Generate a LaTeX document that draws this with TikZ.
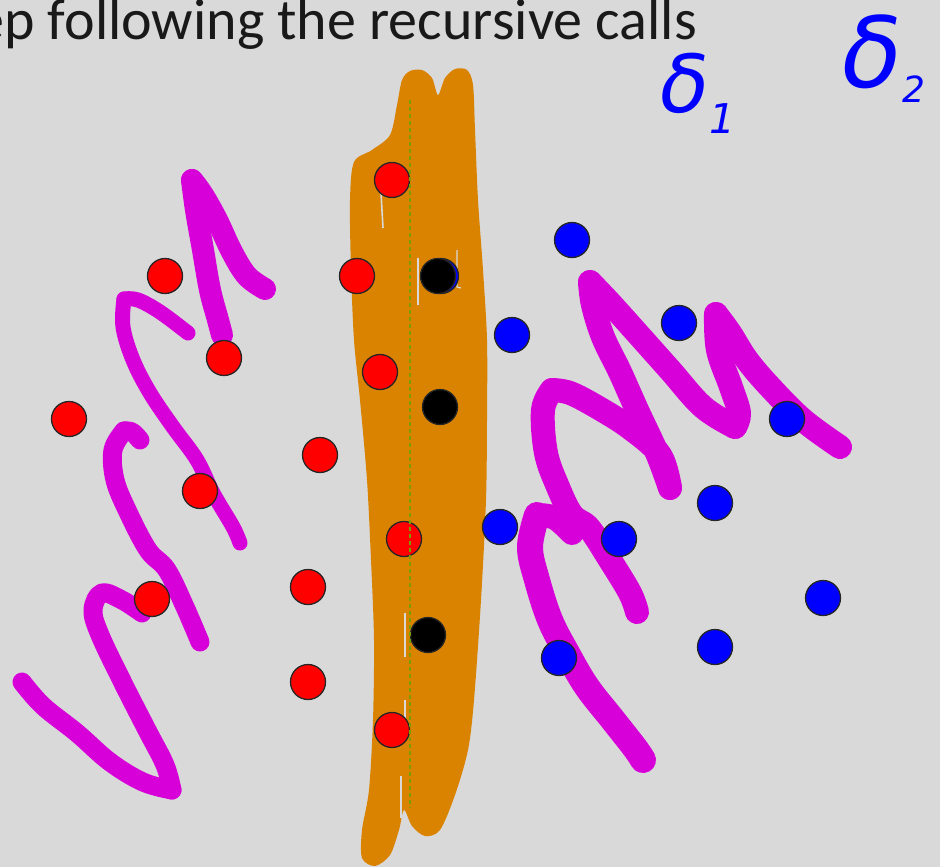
\documentclass[tikz,border=0pt]{standalone}
\usepackage{fontspec}
\setmainfont{Carlito}
\newfontfamily\gfont{DejaVu Sans}
\definecolor{bgc}{RGB}{217,217,217}
\definecolor{orng}{RGB}{217,131,0}
\definecolor{mgn}{RGB}{216,0,216}
\definecolor{dashc}{RGB}{120,160,0}
\definecolor{txtc}{RGB}{25,25,25}
\begin{document}
\begin{tikzpicture}[x=1pt,y=-1pt,
  dot/.style={circle,draw=black!85,line width=1.3pt,minimum size=35pt,inner sep=0pt},
  reddot/.style={dot,fill=red},
  bluedot/.style={dot,fill=blue},
  blackdot/.style={dot,fill=black},
  ink/.style={draw=mgn,line cap=round,line join=round},
  gapline/.style={draw=bgc,line width=1.6pt},
  deltatxt/.style={text=blue,inner sep=0pt,anchor=base west}]
\useasboundingbox (0,0) rectangle (940,867);
\clip (0,0) rectangle (940,867);
\fill[bgc] (0,0) rectangle (940,867);

% title
\node[anchor=base east,inner sep=0pt,text=txtc,font=\fontsize{58}{64}\selectfont] (title) at (697,40) {ep following the recursive calls};

% handwritten deltas
\node[deltatxt,font=\gfont\itshape\fontsize{80}{80}\selectfont] (d1) at (660,112) {δ\raisebox{-21pt}{\fontsize{41}{41}\selectfont 1}};
\node[deltatxt,font=\gfont\itshape\fontsize{98}{98}\selectfont] (d2) at (842,88) {δ\raisebox{-15pt}{\fontsize{36}{36}\selectfont 2}};

% orange band
\fill[orng] plot[smooth cycle,tension=0.5] coordinates {
 (402,80) (410,71) (422,70) (432,78) (438,95) (445,78) (455,69) (467,70) (473,85)
 (475,130) (478,200) (483,270) (487,340) (487,420) (486,500) (481,600) (474,700)
 (468,750) (455,795) (440,830) (425,836) (412,826) (404,810) (399,830) (390,855)
 (375,866) (362,858) (362,830) (369,790) (373,720) (374,640) (371,560) (367,480)
 (360,400) (354,340) (351,270) (350,200) (354,162) (372,150) (390,135) (397,105)};
% small gaps inside the orange
\draw[gapline] (381,193) -- (383,228);
\draw[gapline,line width=1.2pt] (418,258) -- (418,305);
\draw[gapline,line width=1.2pt] (457,250) -- (457,287) -- (461,288);
\draw[gapline] (405,613) -- (405,657);
\draw[gapline,line width=1.2pt] (405,700) -- (405,738);
\draw[gapline] (401,776) -- (401,818);

% magenta scribbles, left
\draw[ink,line width=22pt] plot[smooth,tension=0.6] coordinates {(192,180) (203,195) (217,220) (232,252) (247,276) (265,289)};
\draw[ink,line width=22pt] plot[smooth,tension=0.6] coordinates {(192,180) (196,210) (203,250) (210,290) (218,320) (222,335)};
\draw[ink,line width=15pt] plot[smooth,tension=0.6] coordinates {(188,333) (160,312) (138,300) (124,299)};
\draw[ink,line width=15pt] plot[smooth,tension=0.6] coordinates {(124,299) (123,327) (133,360) (150,393) (173,427) (197,460) (213,493) (233,527) (240,543)};
\draw[ink,line width=19pt] plot[smooth,tension=0.6] coordinates {(140,440) (132,432) (124,431)};
\draw[ink,line width=19pt] plot[smooth,tension=0.6] coordinates {(124,431) (113,450) (115,480) (128,512) (148,550) (167,570) (185,607) (200,642)};
\draw[ink,line width=19pt] plot[smooth,tension=0.6] coordinates {(22,682) (43,706) (77,733) (110,762) (143,782) (172,790)};
\draw[ink,line width=19pt] plot[smooth,tension=0.6] coordinates {(172,790) (165,765) (147,730) (123,683) (100,635) (93,610) (102,593) (122,600) (142,613)};

% magenta scribbles, right
\draw[ink,line width=24pt] plot[smooth,tension=0.6] coordinates {(840,447) (803,420) (770,387) (747,360) (730,333) (716,314)};
\draw[ink,line width=24pt] plot[smooth,tension=0.6] coordinates {(716,314) (718,350) (731,387) (739,413) (735,427)};
\draw[ink,line width=24pt] plot[smooth,tension=0.6] coordinates {(735,427) (703,407) (670,370) (637,333) (610,303) (590,282)};
\draw[ink,line width=24pt] plot[smooth,tension=0.6] coordinates {(590,282) (593,305) (603,337) (620,372) (637,410) (657,453) (670,488)};
\draw[ink,line width=24pt] plot[smooth,tension=0.6] coordinates {(670,488) (660,455) (630,428) (597,407) (570,393) (552,390)};
\draw[ink,line width=24pt] plot[smooth,tension=0.6] coordinates {(552,390) (543,410) (546,453) (558,487) (572,515) (589,528) (610,560) (630,593) (637,612)};
\draw[ink,line width=24pt] plot[smooth,tension=0.6] coordinates {(572,533) (555,518) (537,515)};
\draw[ink,line width=26pt] plot[smooth,tension=0.6] coordinates {(537,515) (530,547) (537,580) (550,620) (567,653) (587,687) (613,720) (635,748) (643,760)};

% red points
\node[reddot] (r1) at (392,180) {};
\node[reddot] (r2) at (165,276) {};
\node[reddot] (r3) at (357,276) {};
\node[reddot] (r4) at (224,358) {};
\node[reddot] (r5) at (380,372) {};
\node[reddot] (r6) at (69,419) {};
\node[reddot] (r7) at (320,455) {};
\node[reddot] (r8) at (200,491) {};
\node[reddot] (r9) at (404,539) {};
\node[reddot] (r10) at (152,599) {};
\node[reddot] (r11) at (308,587) {};
\node[reddot] (r12) at (308,682) {};
\node[reddot] (r13) at (392,730) {};

% blue points
\node[bluedot] (b0) at (441,276) {};
\node[bluedot] (b1) at (572,240) {};
\node[bluedot] (b2) at (512,335) {};
\node[bluedot] (b3) at (679,323) {};
\node[bluedot] (b4) at (787,419) {};
\node[bluedot] (b5) at (500,527) {};
\node[bluedot] (b6) at (619,539) {};
\node[bluedot] (b7) at (715,503) {};
\node[bluedot] (b8) at (823,598) {};
\node[bluedot] (b9) at (715,647) {};
\node[bluedot] (b10) at (559,658) {};

% black points
\node[blackdot] (k1) at (438,276) {};
\node[blackdot] (k2) at (440,407) {};
\node[blackdot] (k3) at (428,635) {};

% dividing line
\coordinate (ltop) at (410,100);
\coordinate (lbot) at (410,808);
\draw[dashc,line width=1.6pt,dash pattern=on 4pt off 3pt] (ltop) -- (lbot);
\end{tikzpicture}
\end{document}
